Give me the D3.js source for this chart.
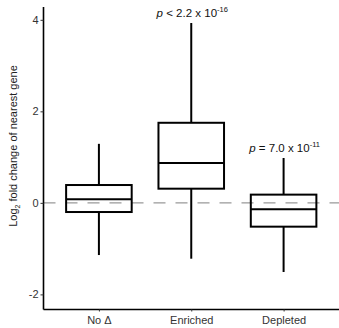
<!DOCTYPE html>
<html>
<head>
<meta charset="utf-8">
<script src="https://cdn.jsdelivr.net/npm/d3@7"></script>
<style>
  body { margin: 0; background: #fff; }
  text { font-family: "Liberation Sans", Arial, sans-serif; }
</style>
</head>
<body>
<div id="chart"></div>
<script>
// data
const groups = ['No \u0394', 'Enriched', 'Depleted'];
const whiskerLow = [-1.14, -1.22, -1.51];
const q1 = [-0.20, 0.31, -0.52];
const median = [0.08, 0.87, -0.14];
const q3 = [0.39, 1.75, 0.18];
const whiskerHigh = [1.29, 3.93, 0.98];
const yTicks = [-2, 0, 2, 4];
const pLabels = [null, ['p < 2.2 x 10', '-16'], ['p = 7.0 x 10', '-11']];

const width = 339, height = 328;

const svg = d3.select('#chart')
  .append('svg')
  .attr('width', width)
  .attr('height', height);

const x = d3.scalePoint().domain(groups).range([43.5, 339]).padding(0.6);
const y = d3.scaleLinear().domain([-2.33, 4.28]).range([309.5, 7]);
const boxW = x.step() * 0.71;

// dashed reference line at zero
svg.append('line')
  .attr('x1', 43.5).attr('x2', 339)
  .attr('y1', y(0)).attr('y2', y(0))
  .attr('stroke', '#999')
  .attr('stroke-width', 1.3)
  .attr('stroke-dasharray', '12,10');

const boxes = svg.selectAll('g.box')
  .data(groups.map((g, i) => ({g, i})))
  .enter()
  .append('g')
  .attr('class', 'box');

// whiskers
boxes.append('line')
  .attr('x1', d => x(d.g)).attr('x2', d => x(d.g))
  .attr('y1', d => y(whiskerHigh[d.i])).attr('y2', d => y(q3[d.i]))
  .attr('stroke', '#000').attr('stroke-width', 2);
boxes.append('line')
  .attr('x1', d => x(d.g)).attr('x2', d => x(d.g))
  .attr('y1', d => y(q1[d.i])).attr('y2', d => y(whiskerLow[d.i]))
  .attr('stroke', '#000').attr('stroke-width', 2);

boxes.append('rect')
  .attr('x', d => x(d.g) - boxW / 2)
  .attr('width', boxW)
  .attr('y', d => y(q3[d.i]))
  .attr('height', d => y(q1[d.i]) - y(q3[d.i]))
  .attr('fill', 'none')
  .attr('stroke', '#000')
  .attr('stroke-width', 2);

boxes.append('line')
  .attr('x1', d => x(d.g) - boxW / 2).attr('x2', d => x(d.g) + boxW / 2)
  .attr('y1', d => y(median[d.i])).attr('y2', d => y(median[d.i]))
  .attr('stroke', '#000').attr('stroke-width', 2);

// p-value labels above the whiskers
const pl = boxes.filter(d => pLabels[d.i])
  .append('text')
  .attr('x', d => x(d.g) + 1)
  .attr('y', d => y(whiskerHigh[d.i]) - 6)
  .attr('text-anchor', 'middle')
  .attr('font-size', 11.5)
  .attr('fill', '#111');
pl.append('tspan')
  .attr('font-style', 'italic')
  .text('p');
pl.append('tspan')
  .text(d => pLabels[d.i][0].slice(1));
pl.append('tspan')
  .attr('font-size', 7.5)
  .attr('dy', -5)
  .text(d => pLabels[d.i][1]);

// axes
const yAxis = svg.append('g')
  .attr('transform', 'translate(43.5,0)')
  .call(d3.axisLeft(y).tickValues(yTicks).tickSize(3).tickFormat(d => String(d)));
const xAxis = svg.append('g')
  .attr('transform', 'translate(0,309.5)')
  .call(d3.axisBottom(x).tickSize(2));

[yAxis, xAxis].forEach(a => {
  a.select('.domain').attr('stroke', '#000').attr('stroke-width', 1.6);
  a.selectAll('.tick line').attr('stroke', '#333').attr('stroke-width', 1);
  a.selectAll('.tick text')
    .attr('font-size', 11)
    .attr('font-family', '"Liberation Sans", Arial, sans-serif')
    .attr('fill', '#333');
});
xAxis.select('.domain').attr('d', 'M43.5,0H339');
yAxis.select('.domain').attr('d', 'M0,7V309.5');
yAxis.selectAll('.tick text').attr('x', -5);
xAxis.selectAll('.tick text').attr('y', 7);

// y axis title
const yt = svg.append('text')
  .attr('transform', 'translate(17,146) rotate(-90)')
  .attr('text-anchor', 'middle')
  .attr('font-size', 11)
  .attr('fill', '#222');
yt.append('tspan').text('Log');
yt.append('tspan').attr('font-size', 7).attr('dy', 3).text('2');
yt.append('tspan').attr('dy', -3).text(' fold change of nearest gene');
</script>
</body>
</html>
